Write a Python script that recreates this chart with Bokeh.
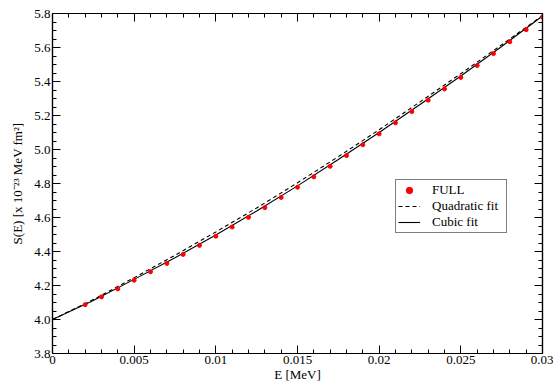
from bokeh.plotting import figure
from bokeh.models import LinearAxis, FixedTicker, Legend, LegendItem, Range1d
from bokeh.embed import file_html
from bokeh.resources import INLINE

# data
E_pts = [0.002, 0.003, 0.004, 0.005, 0.006, 0.007, 0.008, 0.009, 0.010, 0.011,
         0.012, 0.013, 0.014, 0.015, 0.016, 0.017, 0.018, 0.019, 0.020, 0.021,
         0.022, 0.023, 0.024, 0.025, 0.026, 0.027, 0.028, 0.029, 0.030]
S_full = [4.087, 4.133, 4.180, 4.231, 4.281, 4.330, 4.383, 4.436, 4.490, 4.544,
          4.601, 4.658, 4.718, 4.778, 4.839, 4.901, 4.964, 5.028, 5.092, 5.157,
          5.223, 5.290, 5.356, 5.424, 5.494, 5.564, 5.634, 5.705, 5.780]

E_fit = [0.0, 0.0025, 0.005, 0.0075, 0.010, 0.0125, 0.015, 0.0175, 0.020,
         0.0225, 0.025, 0.0275, 0.030]
S_quad = [4.000, 4.117, 4.246, 4.378, 4.515, 4.656, 4.804, 4.958, 5.116,
          5.280, 5.446, 5.616, 5.788]
S_cubic = [4.000, 4.112, 4.236, 4.363, 4.497, 4.638, 4.786, 4.941, 5.100,
           5.265, 5.432, 5.606, 5.785]

x_ticks = [0.0, 0.005, 0.01, 0.015, 0.02, 0.025, 0.03]
x_tick_labels = ["0", "0.005", "0.01", "0.015", "0.02", "0.025", "0.03"]
y_ticks = [3.8, 4.0, 4.2, 4.4, 4.6, 4.8, 5.0, 5.2, 5.4, 5.6, 5.8]
y_tick_labels = ["3.8", "4.0", "4.2", "4.4", "4.6", "4.8", "5.0", "5.2", "5.4", "5.6", "5.8"]
x_minor = [i * 0.001 for i in range(31)]
y_minor = [3.8 + i * 0.05 for i in range(41)]

FONT = "Liberation Serif"

p = figure(width=553, height=384, output_backend="svg", toolbar_location=None,
           x_range=Range1d(0, 0.03), y_range=Range1d(3.8, 5.8),
           x_axis_location=None, y_axis_location=None,
           min_border_left=52, min_border_right=11, min_border_top=13, min_border_bottom=29)
p.grid.visible = False
p.outline_line_color = "black"
p.outline_line_width = 1.2
p.background_fill_color = "white"
p.border_fill_color = "white"

def style(ax, ticks, minor, labels, show):
    ax.ticker = FixedTicker(ticks=ticks, minor_ticks=minor)
    ax.major_tick_in = 8
    ax.major_tick_out = 0
    ax.minor_tick_in = 4
    ax.minor_tick_out = 0
    ax.axis_line_color = "black"
    ax.axis_line_width = 1.2
    ax.major_tick_line_color = "black"
    ax.minor_tick_line_color = "black"
    ax.major_label_text_font = FONT
    ax.major_label_text_color = "black"
    ax.major_label_text_font_size = "13px"
    ax.axis_label_text_font = FONT
    ax.axis_label_text_font_style = "normal"
    ax.axis_label_text_color = "black"
    ax.axis_label_text_font_size = "13px"
    if show:
        ax.major_label_overrides = {t: l for t, l in zip(ticks, labels)}
        ax.major_label_standoff = 2
    else:
        ax.major_label_overrides = {t: "" for t in ticks}
        ax.major_label_standoff = 0

xb = LinearAxis(axis_label="E [MeV]", axis_label_standoff=0)
style(xb, x_ticks, x_minor, x_tick_labels, True)
p.add_layout(xb, "below")
yl = LinearAxis(axis_label="S(E) [x 10⁻²³ MeV fm²]", axis_label_standoff=6)
style(yl, y_ticks, y_minor, y_tick_labels, True)
p.add_layout(yl, "left")
xt = LinearAxis()
style(xt, x_ticks, x_minor, x_tick_labels, False)
p.add_layout(xt, "above")
yr = LinearAxis()
style(yr, y_ticks, y_minor, y_tick_labels, False)
p.add_layout(yr, "right")

r_cubic = p.line(E_fit, S_cubic, line_color="black", line_width=1.1)
r_quad = p.line(E_fit, S_quad, line_color="black", line_width=1.1, line_dash="4 3")
r_full = p.scatter(E_pts, S_full, size=4, fill_color="red", line_color="red")

legend = Legend(items=[LegendItem(label="FULL", renderers=[r_full]),
                       LegendItem(label="Quadratic fit", renderers=[r_quad]),
                       LegendItem(label="Cubic fit", renderers=[r_cubic])],
                location=(343, 120))
legend.label_text_font = FONT
legend.label_text_font_size = "13px"
legend.label_text_color = "black"
legend.border_line_color = "black"
legend.border_line_width = 1
legend.background_fill_alpha = 1
legend.glyph_width = 22
legend.glyph_height = 16
legend.label_height = 16
legend.label_width = 72
legend.label_standoff = 12
legend.spacing = 0
legend.padding = 2
legend.margin = 0
p.add_layout(legend, "center")

open("out.html", "w").write(file_html(p, INLINE))
